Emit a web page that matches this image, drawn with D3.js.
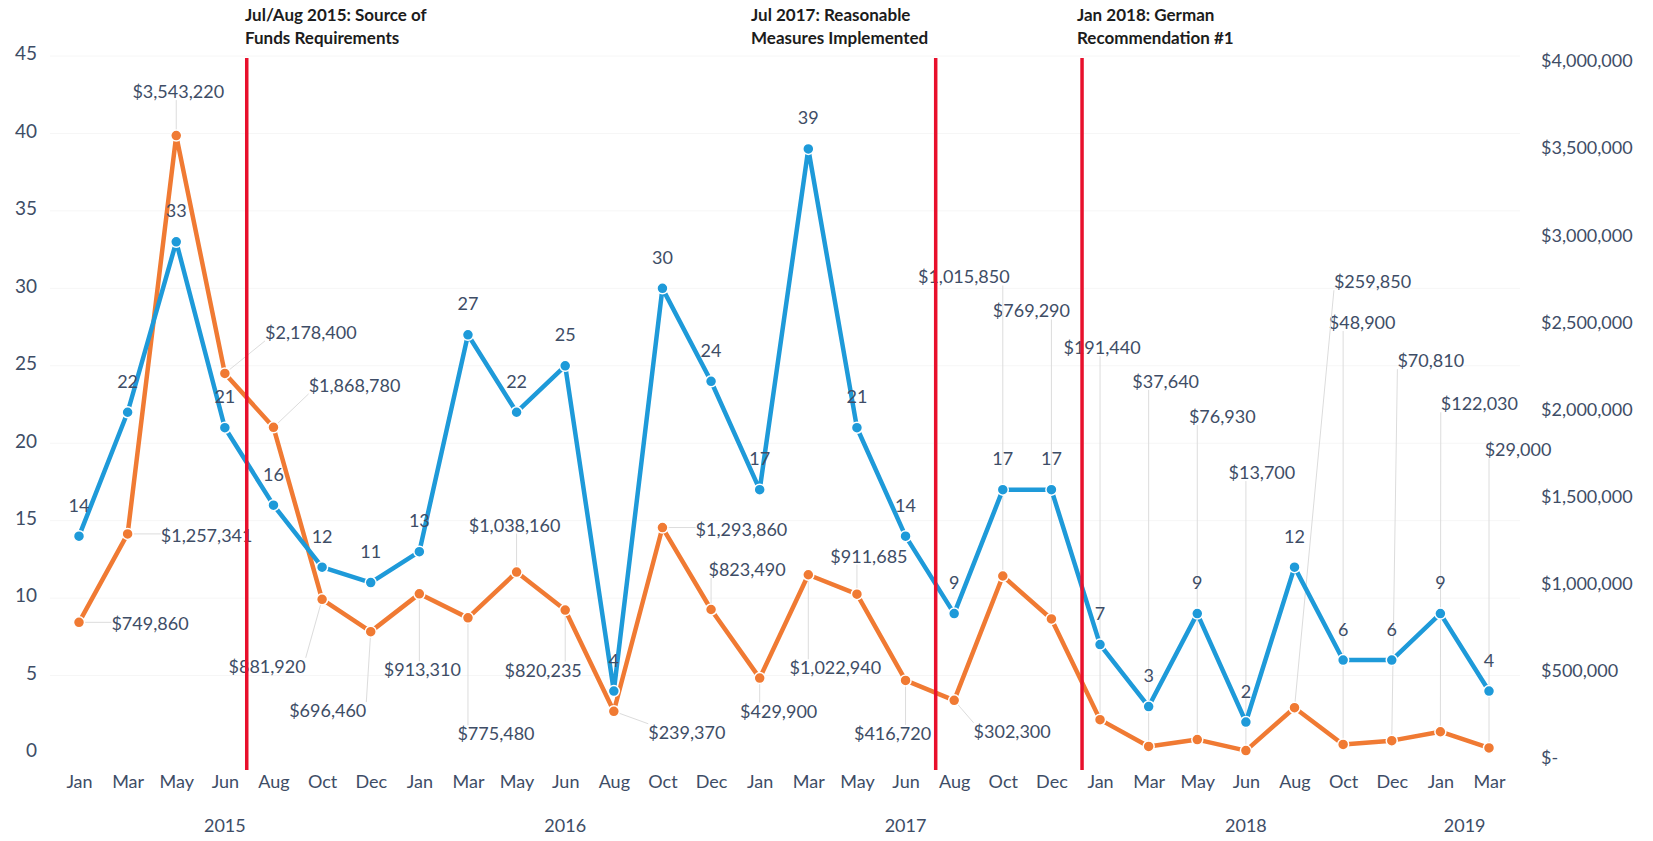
<!DOCTYPE html>
<html>
<head>
<meta charset="utf-8">
<script src="https://cdn.jsdelivr.net/npm/d3@7"></script>
<style>
  body { margin: 0; background: #fff; }
  svg text { font-family: Lato, "Open Sans", sans-serif; }
</style>
</head>
<body>
<svg id="chart"></svg>
<script>
// months on the category axis, grouped by year
const months = ["Jan","Mar","May","Jun","Aug","Oct","Dec",
                "Jan","Mar","May","Jun","Aug","Oct","Dec",
                "Jan","Mar","May","Jun","Aug","Oct","Dec",
                "Jan","Mar","May","Jun","Aug","Oct","Dec",
                "Jan","Mar"];
const years = ["2015","2016","2017","2018","2019"];
const monthsPerYear = [7, 7, 7, 7, 2];

// blue series: number of cases (left axis)
const counts = [14,22,33,21,16,12,11,13,27,22,25,4,30,24,17,39,21,14,9,17,17,7,3,9,2,12,6,6,9,4];
// orange series: dollar amount (right axis)
const amounts = [749860,1257341,3543220,2178400,1868780,881920,696460,913310,775480,1038160,
                 820235,239370,1293860,823490,429900,1022940,911685,416720,302300,1015850,
                 769290,191440,37640,76930,13700,259850,48900,70810,122030,29000];

const leftTicks = [0,5,10,15,20,25,30,35,40,45];
const rightTicks = [0,500000,1000000,1500000,2000000,2500000,3000000,3500000,4000000];

// red event lines: position on the category axis (fractional index) and caption
const events = [
  {at: 3.45,  lines: ["Jul/Aug 2015: Source of", "Funds Requirements"], textX: 245},
  {at: 17.62, lines: ["Jul 2017: Reasonable", "Measures Implemented"], textX: 751},
  {at: 20.63, lines: ["Jan 2018: German", "Recommendation #1"], textX: 1077}
];

// where each dollar label sits relative to its point (layout only)
const amountLabelOffset = [
  [71,1],[79,2],[2,-44],[86,-41],[81,-42],[-55,67],[-43,79],[3,76],[28,116],[-2,-47],
  [-22,60],[73,21],[79,2],[36,-40],[19,33],[27,93],[12,-38],[-13,53],[58,31],[-39,-299],
  [-20,-308],[2,-372],[17,-365],[25,-323],[16,-278],[78,-426],[19,-422],[39,-380],[39,-328],[29,-298]
];

const width = 1653, height = 841;
const blue = "#1e9ad9", orange = "#f07a33", textColor = "#3e4d66";

const svg = d3.select("#chart").attr("width", width).attr("height", height);

const x = d3.scaleLinear().domain([0, months.length - 1]).range([79, 1489]);
const yL = d3.scaleLinear().domain([0, 45]).range([753, 56]);
const yR = d3.scaleLinear().domain([0, 4000000]).range([753, 56]);

// faint gridlines
svg.append("g").selectAll("line").data(leftTicks.slice(1)).join("line")
  .attr("x1", 50).attr("x2", 1520)
  .attr("y1", d => yL(d)).attr("y2", d => yL(d))
  .attr("stroke", "#f6f6f6").attr("stroke-width", 1);

// left axis
const gl = svg.append("g").attr("transform", "translate(45,0)")
  .call(d3.axisLeft(yL).tickValues(leftTicks).tickSize(0).tickPadding(8));
gl.select(".domain").remove();
gl.selectAll("text").attr("font-size", 19).attr("fill", textColor).attr("dy", "0.2em");

// right axis
const fmtMoney = d3.format("$,");
const gr = svg.append("g").attr("transform", "translate(1533,0)")
  .call(d3.axisRight(yR).tickValues(rightTicks).tickSize(0).tickPadding(8)
    .tickFormat(d => d === 0 ? "$-" : fmtMoney(d)));
gr.select(".domain").remove();
gr.selectAll("text").attr("font-size", 18).attr("fill", textColor).attr("dy", "0.6em");

// month axis
const gx = svg.append("g").attr("transform", "translate(0,771)")
  .call(d3.axisBottom(x).tickValues(d3.range(months.length)).tickSize(0).tickPadding(4)
    .tickFormat(i => months[i]));
gx.select(".domain").remove();
gx.selectAll("text").attr("font-size", 18).attr("fill", textColor);

// year labels centred under their months
let start = 0;
years.forEach((yr, k) => {
  const n = monthsPerYear[k];
  svg.append("text")
    .attr("x", x(start + (n - 1) / 2)).attr("y", 832)
    .attr("text-anchor", "middle").attr("font-size", 18).attr("fill", textColor)
    .text(yr);
  start += n;
});

// dollar labels + leader lines
const labelG = svg.append("g");
const leaderG = svg.append("g");
amounts.forEach((v, i) => {
  const px = x(i), py = yR(v);
  const cx = px + amountLabelOffset[i][0], cy = py + amountLabelOffset[i][1];
  const t = labelG.append("text")
    .attr("x", cx).attr("y", cy).attr("dy", "0.36em")
    .attr("text-anchor", "middle").attr("font-size", 18).attr("fill", textColor)
    .text(fmtMoney(v));
  const b = t.node().getBBox();
  const ex = Math.max(b.x, Math.min(b.x + b.width, px));
  const ey = Math.max(b.y + 3, Math.min(b.y + b.height - 2, py));
  if (Math.hypot(ex - px, ey - py) > 14) {
    leaderG.append("line")
      .attr("x1", px).attr("y1", py).attr("x2", ex).attr("y2", ey)
      .attr("stroke", "#dcdcdc").attr("stroke-width", 1);
  }
});

// series lines
const lineL = d3.line().x((d, i) => x(i)).y(d => yL(d));
const lineR = d3.line().x((d, i) => x(i)).y(d => yR(d));

svg.append("path").datum(amounts).attr("d", lineR)
  .attr("fill", "none").attr("stroke", orange).attr("stroke-width", 4.5).attr("stroke-linejoin", "round");
svg.append("g").selectAll("circle").data(amounts).join("circle")
  .attr("cx", (d, i) => x(i)).attr("cy", d => yR(d)).attr("r", 5.5)
  .attr("fill", orange).attr("stroke", "#fff").attr("stroke-width", 1.5);

svg.append("path").datum(counts).attr("d", lineL)
  .attr("fill", "none").attr("stroke", blue).attr("stroke-width", 4.5).attr("stroke-linejoin", "round");
svg.append("g").selectAll("circle").data(counts).join("circle")
  .attr("cx", (d, i) => x(i)).attr("cy", d => yL(d)).attr("r", 5.5)
  .attr("fill", blue).attr("stroke", "#fff").attr("stroke-width", 1.5);

// count labels above points
svg.append("g").selectAll("text").data(counts).join("text")
  .attr("x", (d, i) => x(i)).attr("y", d => yL(d) - 31).attr("dy", "0.36em")
  .attr("text-anchor", "middle").attr("font-size", 18).attr("fill", textColor)
  .text(d => d);

// red event lines and captions
events.forEach(e => {
  svg.append("line")
    .attr("x1", x(e.at)).attr("x2", x(e.at)).attr("y1", 58).attr("y2", 770)
    .attr("stroke", "#e8102c").attr("stroke-width", 3.5);
  e.lines.forEach((s, k) => {
    svg.append("text")
      .attr("x", e.textX).attr("y", 21 + k * 23)
      .attr("font-size", 17).attr("font-weight", "bold").attr("fill", "#1c1c1c")
      .text(s);
  });
});
</script>
</body>
</html>
